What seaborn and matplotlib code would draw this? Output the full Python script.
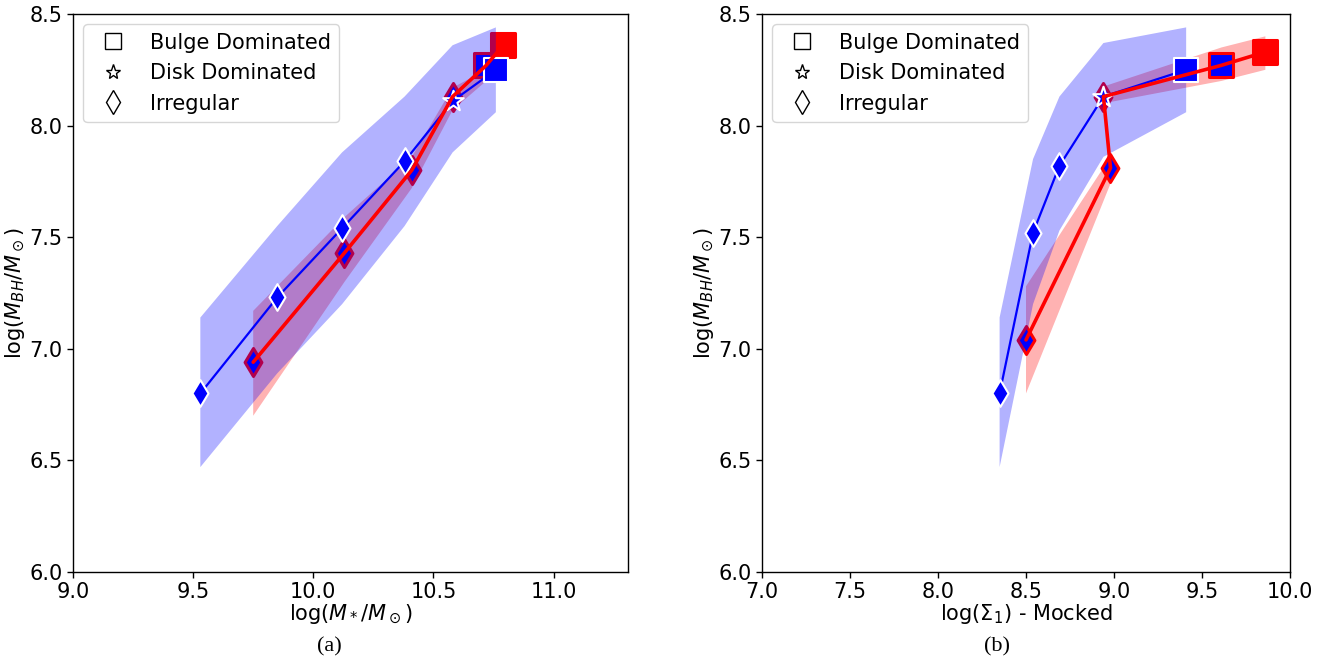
import numpy as np
import pandas as pd
import matplotlib
matplotlib.use("Agg")
import matplotlib.pyplot as plt
import seaborn as sns
from matplotlib.lines import Line2D

# ---------------- data ----------------
# Panel (a): log(M*/Msun)
a_blue_x = [9.53, 9.85, 10.12, 10.38, 10.58, 10.76]
a_blue_y = [6.80, 7.23, 7.54, 7.84, 8.11, 8.25]
a_blue_hi = [7.14, 7.55, 7.88, 8.13, 8.36, 8.44]
a_blue_lo = [6.47, 6.89, 7.20, 7.55, 7.88, 8.06]
a_blue_morph = ["Irregular", "Irregular", "Irregular", "Irregular", "Disk", "Bulge"]

a_red_x = [9.75, 10.13, 10.41, 10.58, 10.72, 10.79]
a_red_y = [6.94, 7.43, 7.80, 8.13, 8.27, 8.36]
a_red_hi = [7.17, 7.59, 7.86, 8.17, 8.25, 8.38]
a_red_lo = [6.70, 7.30, 7.72, 8.07, 8.20, 8.33]
a_red_morph = ["Irregular", "Irregular", "Irregular", "Irregular", "Bulge", "Bulge"]

# Panel (b): log(Sigma_1) - Mocked
b_blue_x = [8.35, 8.54, 8.69, 8.94, 9.41]
b_blue_y = [6.80, 7.52, 7.82, 8.13, 8.25]
b_blue_hi = [7.14, 7.85, 8.13, 8.37, 8.44]
b_blue_lo = [6.47, 7.20, 7.53, 7.86, 8.06]
b_blue_morph = ["Irregular", "Irregular", "Irregular", "Disk", "Bulge"]

b_red_x = [8.50, 8.98, 8.94, 9.61, 9.86]
b_red_y = [7.04, 7.81, 8.13, 8.27, 8.33]
b_red_hi = [7.28, 7.86, 8.175, 8.35, 8.40]
b_red_lo = [6.80, 7.74, 8.10, 8.20, 8.25]
b_red_morph = ["Irregular", "Irregular", "Irregular", "Bulge", "Bulge"]

legend_labels = ["Bulge Dominated", "Disk Dominated", "Irregular"]
y_label = r"log($M_{BH}/M_\odot$)"
a_xlabel = r"log($M_*/M_\odot$)"
b_xlabel = r"log($\Sigma_1$) - Mocked"

# ---------------- style ----------------
sns.set_style("ticks")
plt.rcParams["font.family"] = ["DejaVu Sans"]
plt.rcParams["mathtext.fontset"] = "dejavusans"
plt.rcParams["axes.edgecolor"] = "black"
plt.rcParams["xtick.color"] = "black"
plt.rcParams["ytick.color"] = "black"
plt.rcParams["text.color"] = "black"
plt.rcParams["axes.labelcolor"] = "black"

marker_of = {"Bulge": "s", "Disk": "*", "Irregular": "d"}
size_of = {"Bulge": 310, "Disk": 240, "Irregular": 185}

fig = plt.figure(figsize=(13.29, 6.63), dpi=100)
axA = fig.add_axes([73 / 1329, 1 - 572 / 663, (628 - 73) / 1329, (572 - 14) / 663])
axB = fig.add_axes([762 / 1329, 1 - 572 / 663, (1290 - 762) / 1329, (572 - 14) / 663])


def draw_panel(ax, bx, by, bhi, blo, bm, rx, ry, rhi, rlo, rm):
    blue = pd.DataFrame({"x": bx, "y": by, "hi": bhi, "lo": blo, "m": bm})
    red = pd.DataFrame({"x": rx, "y": ry, "hi": rhi, "lo": rlo, "m": rm})

    # red band (bottom)
    ax.fill(np.r_[red.x, red.x[::-1]], np.r_[red.hi, red.lo[::-1]],
            color="red", alpha=0.3, lw=0, zorder=1)
    # red-series markers: blue face, red edge; final one filled red
    last = len(red) - 1
    for i, row in red.iterrows():
        face = "red" if i == last else "blue"
        sns.scatterplot(x=[row.x], y=[row.y], marker=marker_of[row.m],
                        s=size_of[row.m] * (1.1 if row.m == "Irregular" else 1.0),
                        color=face, edgecolor="red", linewidth=2.2,
                        ax=ax, zorder=2, legend=False)
    # blue band (over red markers)
    ax.fill(np.r_[blue.x, blue.x[::-1]], np.r_[blue.hi, blue.lo[::-1]],
            color="blue", alpha=0.3, lw=0, zorder=3)
    # blue line + markers
    sns.lineplot(data=blue, x="x", y="y", sort=False, estimator=None,
                 color="blue", lw=1.6, ax=ax, zorder=4)
    for m, grp in blue.groupby("m"):
        sns.scatterplot(data=grp, x="x", y="y", marker=marker_of[m], s=size_of[m],
                        color="blue", edgecolor="white", linewidth=1.5,
                        ax=ax, zorder=5, legend=False)
    # red line on top
    sns.lineplot(data=red, x="x", y="y", sort=False, estimator=None,
                 color="red", lw=2.6, ax=ax, zorder=6)

    handles = [Line2D([], [], ls="none", marker="s", ms=11.5, mfc="none", mec="black", mew=1.0),
               Line2D([], [], ls="none", marker="*", ms=11, mfc="none", mec="black", mew=1.0),
               Line2D([], [], ls="none", marker="d", ms=12, mfc="none", mec="black", mew=1.0)]
    ax.legend(handles, legend_labels, loc="upper left", fontsize=15, frameon=True,
              framealpha=0.8, edgecolor="0.8", fancybox=True)
    ax.set_ylim(6.0, 8.5)
    ax.set_yticks(np.arange(6.0, 8.51, 0.5))
    ax.set_ylabel(y_label, fontsize=15, labelpad=2)
    ax.tick_params(labelsize=15, length=4, width=1)
    for sp in ax.spines.values():
        sp.set_linewidth(1.0)
        sp.set_color("black")


draw_panel(axA, a_blue_x, a_blue_y, a_blue_hi, a_blue_lo, a_blue_morph,
           a_red_x, a_red_y, a_red_hi, a_red_lo, a_red_morph)
draw_panel(axB, b_blue_x, b_blue_y, b_blue_hi, b_blue_lo, b_blue_morph,
           b_red_x, b_red_y, b_red_hi, b_red_lo, b_red_morph)

axA.set_xlim(9.0, 11.31)
axA.set_xticks(np.arange(9.0, 11.01, 0.5))
axA.set_xlabel(a_xlabel, fontsize=15, labelpad=0)
axB.set_xlim(7.0, 10.0)
axB.set_xticks(np.arange(7.0, 10.01, 0.5))
axB.set_xlabel(b_xlabel, fontsize=15, labelpad=0)
for ax in (axA, axB):
    ax.set_yticklabels([f"{v:.1f}" for v in ax.get_yticks()])
    ax.set_xticklabels([f"{v:.1f}" for v in ax.get_xticks()])

fig.text(329 / 1329, 1 - 647 / 663, "(a)", ha="center", va="center",
         fontsize=16, family=["Liberation Serif"])
fig.text(997 / 1329, 1 - 647 / 663, "(b)", ha="center", va="center",
         fontsize=16, family=["Liberation Serif"])

fig.savefig("out.png", dpi=100)
